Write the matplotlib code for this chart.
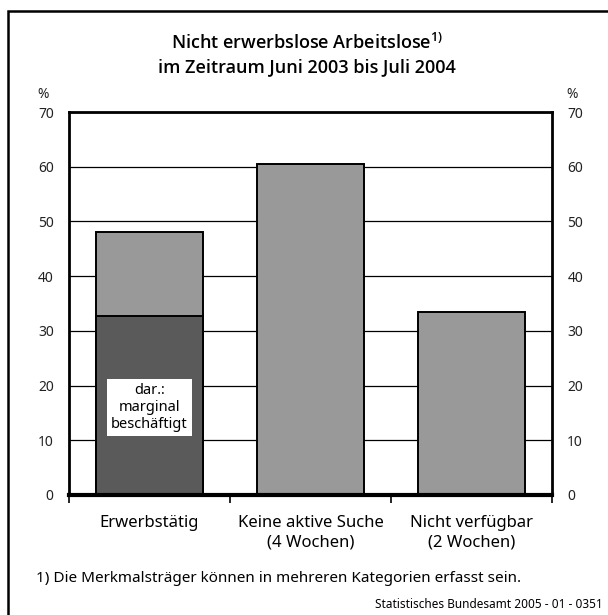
import numpy as np
import matplotlib
matplotlib.use("Agg")
import matplotlib.pyplot as plt
from matplotlib.patches import Rectangle

plt.rcParams["font.family"] = ["Noto Sans", "DejaVu Sans"]

categories = ["Erwerbstätig", "Keine aktive Suche\n(4 Wochen)", "Nicht verfügbar\n(2 Wochen)"]
totals = [48.0, 60.5, 33.5]
marginal = [32.7, 0.0, 0.0]          # dar.: marginal beschäftigt
yticks = [0, 10, 20, 30, 40, 50, 60, 70]

light, dark = "#999999", "#5a5a5a"

fig = plt.figure(figsize=(6.08, 6.15), dpi=100)
ax = fig.add_axes([69 / 608, 1 - 495 / 615, 483 / 608, 383 / 615])

x = np.arange(len(categories))
ax.bar(x, totals, width=0.66, color=light, edgecolor="black", linewidth=1.4, zorder=3)
ax.bar(x, marginal, width=0.66, color=dark, edgecolor="black", linewidth=1.4, zorder=4)

ax.set_xlim(-0.5, 2.5)
ax.set_ylim(0, 70)
for v in yticks[1:]:
    ax.axhline(v, color="black", linewidth=0.9, zorder=1)

# y labels on both sides, no tick marks
ax.set_yticks(yticks)
ax.set_yticklabels([str(v) for v in yticks], fontsize=10, color="#222222")
ax.tick_params(axis="y", length=0, pad=11, left=False, right=False,
               labelleft=True, labelright=True)
for t in ax.yaxis.get_major_ticks()[:1]:
    t.label1.set_fontweight("bold")
    t.label2.set_fontweight("bold")

ax.set_xticks([-0.5, 0.5, 1.5, 2.5])
ax.set_xticklabels([])
ax.tick_params(axis="x", length=6, width=1.2, direction="out")
for i, c in enumerate(categories):
    ax.text(x[i], -3.6, c, ha="center", va="top", fontsize=12, linespacing=1.35)

for side, lw in (("left", 2), ("right", 2), ("top", 2), ("bottom", 3)):
    ax.spines[side].set_linewidth(lw)
    ax.spines[side].set_zorder(5)

ax.text(0, 16, "dar.:\nmarginal\nbeschäftigt", ha="center", va="center", fontsize=10.5,
        linespacing=1.2, zorder=6,
        bbox=dict(boxstyle="square,pad=0.25", facecolor="white", edgecolor="none"))

fig.text(43 / 608, 1 - 94 / 615, "%", ha="center", va="center", fontsize=10, color="#222222")
fig.text(572 / 608, 1 - 94 / 615, "%", ha="center", va="center", fontsize=10, color="#222222")

title_font = dict(family=["Open Sans", "Noto Sans", "DejaVu Sans"], size=13, weight=600)
fig.text(0.505, 1 - 43 / 615, r"Nicht erwerbslose Arbeitslose$^{\mathregular{1)}}$", ha="center",
         va="center", fontdict=title_font)
fig.text(0.505, 1 - 67 / 615, "im Zeitraum Juni 2003 bis Juli 2004", ha="center", va="center",
         fontdict=title_font)

fig.text(36 / 608, 1 - 578 / 615, "1) Die Merkmalsträger können in mehreren Kategorien erfasst sein.",
         ha="left", va="center", fontsize=11)
fig.text(603 / 608, 1 - 605 / 615, "Statistisches Bundesamt 2005 - 01 - 0351",
         ha="right", va="center", fontsize=8.5)

# outer frame, open at the right and bottom edges
fig.add_artist(Rectangle((7.5 / 608, -0.01), 1.0, 1 - 10.5 / 615 + 0.01, transform=fig.transFigure,
                         fill=False, edgecolor="black", linewidth=1.8))

fig.savefig("out.png", dpi=100)
